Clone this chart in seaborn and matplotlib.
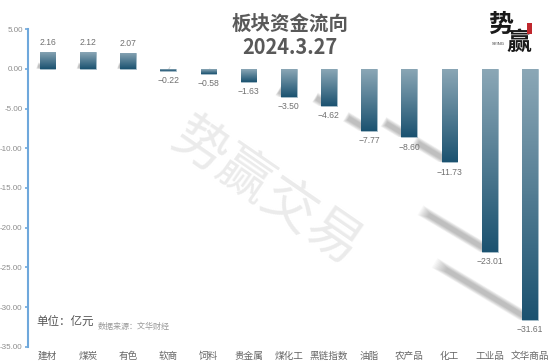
import numpy as np
import pandas as pd
import matplotlib
matplotlib.use("Agg")
import matplotlib.pyplot as plt
import seaborn as sns
from matplotlib.colors import LinearSegmentedColormap
from matplotlib.patches import Rectangle

categories = ["建材", "煤炭", "有色", "软商", "饲料", "贵金属", "煤化工",
              "黑链指数", "油脂", "农产品", "化工", "工业品", "文华商品"]
flows = [2.16, 2.12, 2.07, -0.22, -0.58, -1.63, -3.50,
         -4.62, -7.77, -8.60, -11.73, -23.01, -31.61]
y_ticks = [5, 0, -5, -10, -15, -20, -25, -30, -35]

CJK = ["Noto Sans CJK SC", "DejaVu Sans"]
NUM = ["Liberation Sans", "DejaVu Sans"]
AXIS_BLUE = "#6fa8dc"

sns.set_theme(style="white")
plt.rcParams["font.family"] = CJK

fig = plt.figure(figsize=(5.5, 3.64), dpi=100)
ax = fig.add_axes([27.5 / 550, 17.3 / 364, 522.5 / 550, 317.4 / 364])

df = pd.DataFrame({"category": categories, "flow": flows})
sns.barplot(data=df, x="category", y="flow", width=0.39, color="#1b5270",
            saturation=1, ax=ax, zorder=3)
ax.set_xlim(-0.5, 12.5)
ax.set_ylim(-35, 5)

# watermark
fig.text(266 / 550, 1 - 193 / 364, "势赢交易", rotation=-34.6, ha="center", va="center",
         rotation_mode="anchor", fontsize=39, color="#ebebeb", zorder=0)

# pixels per data unit, for the shadow thickness
px_x = ax.transData.transform((1, 0))[0] - ax.transData.transform((0, 0))[0]
px_y = ax.transData.transform((0, 1))[1] - ax.transData.transform((0, 0))[1]

# gradient + slanted shadow per bar
cmap = LinearSegmentedColormap.from_list("bar", ["#8ba7b6", "#1b5270"])
grad = np.linspace(0, 1, 128).reshape(-1, 1)
for bar, v in zip(ax.patches, flows):
    x0, w = bar.get_x(), bar.get_width()
    top, bottom = max(0, v), min(0, v)
    dx = 0.075 * abs(v) if v < 0 else 0.12 * v
    dy = 0.227 * abs(v) if v < 0 else 0.2 * v
    xc = x0 + w / 2
    thick_px = w * px_x * (dy * px_y) / np.hypot(dx * px_x, dy * px_y)
    clip = Rectangle((-1, bottom), 15, 60, transform=ax.transData)
    # stacked strokes stand in for the blur, narrow ones stop short of the tip
    for t in np.linspace(0, 1, 12):
        lw = (0.5 + 0.9 * t) * thick_px * 0.72
        end = 1 - 0.12 * (1 - t)
        line, = ax.plot([xc, xc - dx * end], [bottom, bottom + dy * end], color="#555555",
                        lw=lw, alpha=0.035, solid_capstyle="butt", zorder=2)
        line.set_clip_path(clip)
    im = ax.imshow(grad, cmap=cmap, vmin=0, vmax=1, aspect="auto",
                   extent=[x0, x0 + w, bottom, top], zorder=4)
    im.set_clip_path(bar)
    bar.set_edgecolor("#a9bfcb")
    bar.set_linewidth(0.6)

ax.set_xlim(-0.5, 12.5)
ax.set_ylim(-35, 5)

# value labels
for bar, v in zip(ax.patches, flows):
    xc = bar.get_x() + bar.get_width() / 2
    ax.annotate(f"{v:.2f}".replace("-", "−"), (xc, v), xytext=(0, 9.5 if v > 0 else -10),
                textcoords="offset pixels", ha="center", va="center", fontsize=6.2,
                family=NUM, color="#707070", zorder=5)

# axes
for s in ["top", "right", "bottom"]:
    ax.spines[s].set_visible(False)
ax.spines["left"].set_color(AXIS_BLUE)
ax.spines["left"].set_linewidth(1.5)
ax.set_yticks(y_ticks)
ax.set_yticklabels([f"{t:.2f}" for t in y_ticks], fontsize=5.8, family=NUM, color="#8c8c8c")
ax.tick_params(axis="y", length=2.5, width=1.2, color=AXIS_BLUE, pad=1, left=True)
ax.tick_params(axis="x", length=0, pad=3.6)
ax.set_xticks(range(len(categories)))
ax.set_xticklabels(categories, fontsize=6.9, color="#666666")
ax.set_xlabel("")
ax.set_ylabel("")
ax.patch.set_alpha(0)

# titles
fig.text(290 / 550, 1 - 24 / 364, "板块资金流向", ha="center", va="center", fontsize=14,
         fontweight="bold", color="#595959")
fig.text(290 / 550, 1 - 48 / 364, "2024.3.27", ha="center", va="center", fontsize=14.4,
         fontweight="bold", color="#595959")
fig.text(36 / 550, 1 - 321 / 364, "单位：亿元", ha="left", va="center", fontsize=8.3, color="#555555")
fig.text(98 / 550, 1 - 326 / 364, "数据来源：文华财经", ha="left", va="center", fontsize=5.8, color="#999999")

# logo
fig.text(501 / 550, 1 - 25 / 364, "势", ha="center", va="center", fontsize=18,
         fontweight="bold", color="#1a1a1a")
fig.text(519 / 550, 1 - 43 / 364, "赢", ha="center", va="center", fontsize=18,
         fontweight="bold", color="#1a1a1a")
fig.text(498 / 550, 1 - 44 / 364, "SYING", ha="center", va="center", fontsize=3,
         family=NUM, color="#333333")
fig.add_artist(Rectangle((527 / 550, 1 - 34 / 364), 5 / 550, 11 / 364, transform=fig.transFigure,
                         facecolor="#c0272d", edgecolor="none", zorder=10))

fig.savefig("out.png", dpi=100)
